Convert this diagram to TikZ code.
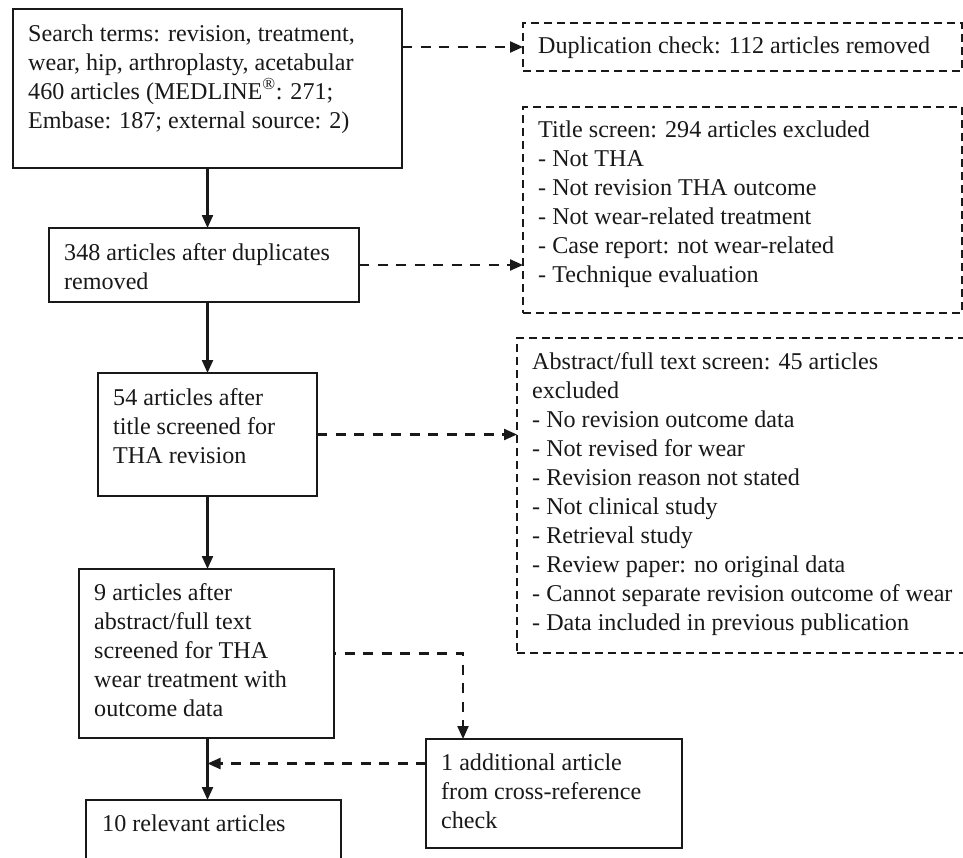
\documentclass[tikz,border=0pt]{standalone}
\usepackage{fontspec}
\setmainfont{Liberation Serif}
\usetikzlibrary{arrows.meta}
\newcommand\lines[1]{\parbox[t]{20cm}{\raggedright #1}}
\tikzset{
  x=1pt, y=-1pt,
  solidbox/.style={draw=black!90, line width=2.2pt, rectangle, inner sep=0pt, outer sep=0pt, anchor=north west},
  dashbox/.style={draw=black!90, line width=1.8pt, dash pattern=on 8pt off 5pt, rectangle, inner sep=0pt, outer sep=0pt, anchor=north west},
  txt/.style={anchor=base west, inner sep=0pt, text=black!90, font=\fontsize{24.1}{29}\selectfont},
  solidarrow/.style={draw=black!90, line width=2.2pt, -{Triangle[length=13pt,width=11pt]}},
  dasharrow/.style={draw=black!90, line width=2.2pt, dash pattern=on 10pt off 8.5pt, -{Triangle[length=13pt,width=11pt]}}
}
\begin{document}
\begin{tikzpicture}
\useasboundingbox (0,0) rectangle (963,857);
\clip (0,0) rectangle (963,857);
\fill[white] (0,0) rectangle (963,857);

% boxes
\node[solidbox, minimum width=389pt, minimum height=159pt] (b1) at (13,9) {};
\node[dashbox, minimum width=439pt, minimum height=48pt] (dup) at (523,23) {};
\node[dashbox, minimum width=439pt, minimum height=206pt] (title) at (523,107) {};
\node[solidbox, minimum width=310pt, minimum height=74pt] (b2) at (49,228) {};
\node[dashbox, minimum width=470pt, minimum height=315pt] (abs) at (517,338) {};
\node[solidbox, minimum width=219pt, minimum height=123pt] (b3) at (98,373) {};
\node[solidbox, minimum width=255pt, minimum height=169pt] (b4) at (79,569) {};
\node[solidbox, minimum width=256pt, minimum height=109pt] (b6) at (426,739) {};
\node[solidbox, minimum width=255pt, minimum height=90pt] (b5) at (86,800) {};

% texts
\node[txt] (t1) at (28,41) {\lines{Search terms: revision, treatment,\\wear, hip, arthroplasty, acetabular\\460 articles (MEDLINE\textsuperscript{®}: 271;\\Embase: 187; external source: 2)}};
\node[txt] (tdup) at (538,53) {Duplication check: 112 articles removed};
\node[txt] (ttitle) at (538,137) {\lines{Title screen: 294 articles excluded\\- Not THA\\- Not revision THA outcome\\- Not wear-related treatment\\- Case report: not wear-related\\- Technique evaluation}};
\node[txt] (t2) at (64,260) {\lines{348 articles after duplicates\\removed}};
\node[txt] (tabs) at (532,369) {\lines{Abstract/full text screen: 45 articles\\excluded\\- No revision outcome data\\- Not revised for wear\\- Revision reason not stated\\- Not clinical study\\- Retrieval study\\- Review paper: no original data\\- Cannot separate revision outcome of wear\\- Data included in previous publication}};
\node[txt] (t3) at (113,405) {\lines{54 articles after\\title screened for\\THA revision}};
\node[txt] (t4) at (94,600) {\lines{9 articles after\\abstract/full text\\screened for THA\\wear treatment with\\outcome data}};
\node[txt] (t6) at (441,770) {\lines{1 additional article\\from cross-reference\\check}};
\node[txt] (t5) at (102,831) {10 relevant articles};

% main flow
\draw[solidarrow] (b1.south) -- (b1.south |- b2.north);
\draw[solidarrow] (b1.south |- b2.south) -- (b1.south |- b3.north);
\draw[solidarrow] (b1.south |- b3.south) -- (b1.south |- b4.north);
\draw[solidarrow] (b1.south |- b4.south) -- (b1.south |- b5.north);

% exclusions
\draw[dasharrow] (b1.east |- dup.west) -- (dup.west);
\draw[dasharrow] (b2.east) -- (b2.east -| title.west);
\draw[dasharrow] (b3.east) -- (b3.east -| abs.west);

% cross-reference
\coordinate (c6) at ([xshift=37pt]b6.north west);
\draw[dasharrow, dash phase=8pt] (b4.east) -| (c6);
\coordinate (m6) at ([yshift=30pt]b6.west);
\draw[dasharrow] (m6) -- (m6 -| b1.south);
\end{tikzpicture}
\end{document}
